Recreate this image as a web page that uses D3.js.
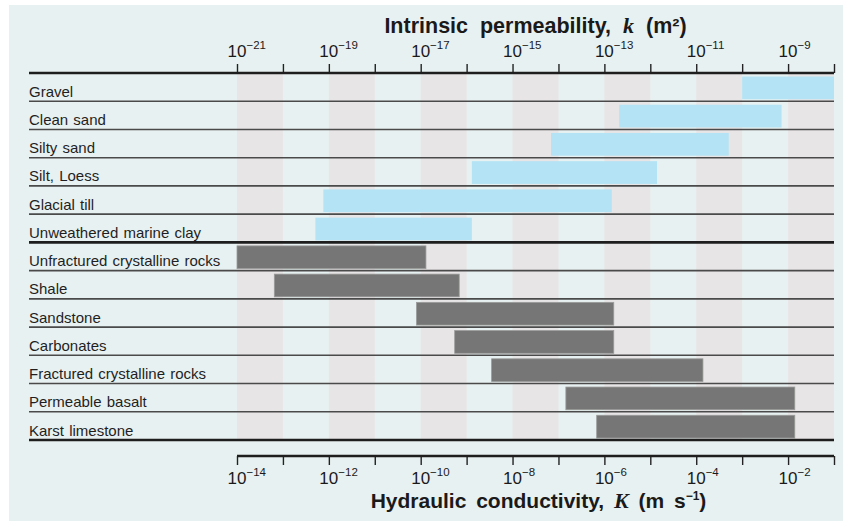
<!DOCTYPE html>
<html><head><meta charset="utf-8">
<script src="https://cdn.jsdelivr.net/npm/d3@7"></script>
<style>
body{margin:0;background:#fff;}
svg{display:block;font-family:"Liberation Sans",Arial,sans-serif;}
</style></head>
<body><svg id="c" width="843" height="521"></svg>
<script>
// Materials (top to bottom)
const materials = ["Gravel","Clean sand","Silty sand","Silt, Loess","Glacial till","Unweathered marine clay",
  "Unfractured crystalline rocks","Shale","Sandstone","Carbonates","Fractured crystalline rocks","Permeable basalt","Karst limestone"];
// Intrinsic permeability range, k (m²)
const kMin = [1e-10, 2.1e-13, 6.9e-15, 1.3e-16, 7.6e-20, 5.1e-20, 1e-21, 6.5e-21, 8.1e-18, 5.5e-17, 3.5e-16, 1.45e-14, 6.8e-14];
const kMax = [1e-8, 7.2e-10, 5.1e-11, 1.4e-12, 1.45e-13, 1.3e-16, 1.3e-17, 6.9e-17, 1.6e-13, 1.6e-13, 1.4e-11, 1.4e-9, 1.4e-9];
const groups = ["sediment","sediment","sediment","sediment","sediment","sediment","rock","rock","rock","rock","rock","rock","rock"];
// Axis ticks (exponents)
const kTickExp = [-21,-20,-19,-18,-17,-16,-15,-14,-13,-12,-11,-10,-9,-8];
const kLabelExp = [-21,-19,-17,-15,-13,-11,-9];
const KTickExp = [-14,-13,-12,-11,-10,-9,-8,-7,-6,-5,-4,-3,-2,-1];
const KLabelExp = [-14,-12,-10,-8,-6,-4,-2];
const shadedExp = [-21,-19,-17,-15,-13,-11,-9];

const svg = d3.select("#c");
const W = 843, H = 521;
const x0 = 237, x1 = 834, yTop = 73, yBot = 440, labelX = 29;

svg.append("rect").attr("x",9).attr("y",5).attr("width",W-9).attr("height",H-5).attr("fill","#e8f1f1");

const xk = d3.scaleLog().domain([1e-21,1e-8]).range([x0,x1]);
const xK = d3.scaleLog().domain([1e-14,1e-1]).range([x0,x1]);
const y = d3.scaleBand().domain(materials).range([yTop,yBot]).paddingInner(0).paddingOuter(0);

// shaded decade bands
svg.append("g").selectAll("rect").data(shadedExp).join("rect")
  .attr("x",d=>xk(Math.pow(10,d))).attr("width",d=>xk(Math.pow(10,d+1))-xk(Math.pow(10,d)))
  .attr("y",yTop).attr("height",yBot-yTop).attr("fill","#e8e5e6");

// bars
const colors = {sediment:"#b3e3f4", rock:"#757675"};
svg.append("g").selectAll("rect").data(materials).join("rect")
  .attr("x",(d,i)=>xk(kMin[i])).attr("width",(d,i)=>xk(kMax[i])-xk(kMin[i]))
  .attr("y",d=>y(d)+3.5).attr("height",y.bandwidth()-5.5)
  .attr("fill",(d,i)=>colors[groups[i]])
  .attr("stroke",(d,i)=>groups[i]==="rock"?"#9a9b9a":"none").attr("stroke-width",0.8);

// row separators
const seps = materials.slice(1).map(m=>({y:y(m), thick: m==="Unfractured crystalline rocks"}));
svg.append("g").selectAll("line").data(seps).join("line")
  .attr("x1",labelX).attr("x2",x1).attr("y1",d=>d.y).attr("y2",d=>d.y)
  .attr("stroke",d=>d.thick?"#1e1e1e":"#4a4a4a").attr("stroke-width",d=>d.thick?2.6:1.6);
svg.append("line").attr("x1",labelX).attr("x2",x1).attr("y1",yBot).attr("y2",yBot)
  .attr("stroke","#1e1e1e").attr("stroke-width",2.6);

// row labels
svg.append("g").selectAll("text").data(materials).join("text")
  .attr("x",labelX).attr("y",d=>y(d)+y.bandwidth()-4.5)
  .attr("font-size",15).attr("fill","#1f1f1f").attr("word-spacing","1px").text(d=>d);

// top axis
const topAxis = d3.axisTop(xk).tickValues(kTickExp.map(e=>Math.pow(10,e))).tickFormat("").tickSize(9).tickSizeOuter(0);
const gt = svg.append("g").attr("transform",`translate(0,${yTop})`).call(topAxis);
gt.select(".domain").remove();
gt.selectAll(".tick line").attr("stroke","#222").attr("stroke-width",1.4);
svg.append("line").attr("x1",labelX).attr("x2",x1).attr("y1",yTop).attr("y2",yTop).attr("stroke","#1e1e1e").attr("stroke-width",2.4);

function expLabel(g, xpos, ypos, e){
  const t = g.append("text").attr("x",xpos-9.5).attr("y",ypos).attr("font-size",17).attr("fill","#1a1a1a");
  t.append("tspan").text("10");
  t.append("tspan").attr("dy",-8).attr("font-size",11.5).text("\u2212"+Math.abs(e));
}
const gtl = svg.append("g");
kLabelExp.forEach(e=>expLabel(gtl, xk(Math.pow(10,e)), 57, e));

// bottom axis
const yB = 456;
const botAxis = d3.axisBottom(xK).tickValues(KTickExp.map(e=>Math.pow(10,e))).tickFormat("").tickSize(9).tickSizeOuter(0);
const gb = svg.append("g").attr("transform",`translate(0,${yB})`).call(botAxis);
gb.select(".domain").remove();
gb.selectAll(".tick line").attr("stroke","#222").attr("stroke-width",1.4);
svg.append("line").attr("x1",x0).attr("x2",x1).attr("y1",yB).attr("y2",yB).attr("stroke","#1e1e1e").attr("stroke-width",2.4);
const gbl = svg.append("g");
KLabelExp.forEach(e=>expLabel(gbl, xK(Math.pow(10,e)), 484, e));

// titles
const cx = (x0+x1)/2;
const t1 = svg.append("text").attr("x",cx).attr("y",33).attr("text-anchor","middle")
  .attr("font-size",21.5).attr("font-weight","bold").attr("fill","#1a1a1a").attr("word-spacing","6px");
t1.append("tspan").text("Intrinsic permeability, ");
t1.append("tspan").attr("font-family","'Liberation Serif',serif").attr("font-style","italic").attr("font-size",22).text("k");
t1.append("tspan").text(" (m\u00B2)");

const t2 = svg.append("text").attr("x",cx+3).attr("y",508).attr("text-anchor","middle")
  .attr("font-size",21).attr("font-weight","bold").attr("fill","#1a1a1a").attr("word-spacing","4px");
t2.append("tspan").text("Hydraulic conductivity, ");
t2.append("tspan").attr("font-family","'Liberation Serif',serif").attr("font-style","italic").attr("font-size",22).text("K");
t2.append("tspan").text(" (m s");
t2.append("tspan").attr("dy",-8).attr("font-size",12).text("\u22121");
t2.append("tspan").attr("dy",8).text(")");
</script></body></html>
